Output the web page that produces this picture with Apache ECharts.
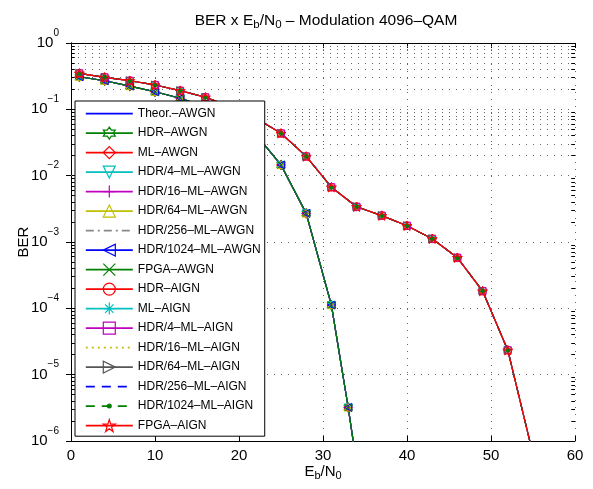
<!DOCTYPE html>
<html>
<head>
<meta charset="utf-8">
<script src="https://cdn.jsdelivr.net/npm/echarts@6/dist/echarts.min.js"></script>
<style>
html, body { margin: 0; padding: 0; background: #fff; }
#main { width: 593px; height: 489px; }
</style>
</head>
<body>
<div id="main"></div>
<script>
// 数据
var ebn0Awgn = [1, 4, 7, 10, 13, 16, 19, 22, 25, 28, 31, 33, 34];
var berAwgn = [0.31, 0.27, 0.224, 0.184, 0.147, 0.109, 0.072, 0.042, 0.0145, 0.0027, 1.12e-4, 3.2e-6, 4.5e-7];
var ebn0Aign = [1, 4, 7, 10, 13, 16, 19, 22, 25, 28, 31, 34, 37, 40, 43, 46, 49, 52, 55];
var berAign = [0.349, 0.304, 0.27, 0.233, 0.191, 0.152, 0.11, 0.0738, 0.0435, 0.0195, 0.0067, 0.0034, 0.0025, 0.00176, 0.00112, 5.8e-4, 1.82e-4, 2.34e-5, 6.3e-7];

var seriesNames = ['Theor.–AWGN', 'HDR–AWGN', 'ML–AWGN', 'HDR/4–ML–AWGN', 'HDR/16–ML–AWGN',
    'HDR/64–ML–AWGN', 'HDR/256–ML–AWGN', 'HDR/1024–ML–AWGN', 'FPGA–AWGN',
    'HDR–AIGN', 'ML–AIGN', 'HDR/4–ML–AIGN', 'HDR/16–ML–AIGN', 'HDR/64–ML–AIGN',
    'HDR/256–ML–AIGN', 'HDR/1024–ML–AIGN', 'FPGA–AIGN'];
var seriesGroup = ['awgn', 'awgn', 'awgn', 'awgn', 'awgn', 'awgn', 'awgn', 'awgn', 'awgn',
    'aign', 'aign', 'aign', 'aign', 'aign', 'aign', 'aign', 'aign'];

var xTicks = [0, 10, 20, 30, 40, 50, 60];
var yDecades = [-6, -5, -4, -3, -2, -1];
var minorFactors = [2, 3, 4, 5, 6, 7, 8, 9];

// marker shapes (matlab style)
var MK = {
    hexagram: 'path://M0,-10L2.887,-5L8.66,-5L5.77,0L8.66,5L2.887,5L0,10L-2.887,5L-8.66,5L-5.77,0L-8.66,-5L-2.887,-5Z',
    pentagram: 'path://M0,-10L2.245,-3.09L9.511,-3.09L3.633,1.18L5.878,8.09L0,3.82L-5.878,8.09L-3.633,1.18L-9.511,-3.09L-2.245,-3.09Z',
    plus: 'path://M-5,0L5,0M0,-5L0,5',
    cross: 'path://M-5,-5L5,5M-5,5L5,-5',
    asterisk: 'path://M-5,0L5,0M0,-5L0,5M-3.5,-3.5L3.5,3.5M-3.5,3.5L3.5,-3.5',
    triUp: 'path://M0,-5L5,4L-5,4Z',
    triDown: 'path://M0,5L5,-4L-5,-4Z',
    triLeft: 'path://M-5,0L4,-5L4,5Z',
    triRight: 'path://M5,0L-4,-5L-4,5Z',
    // small dot inside a 10x10 box (the moveTo corners keep the box size)
    dot: 'path://M-5,-5M5,5M-1.6,0A1.6,1.6,0,1,1,1.6,0A1.6,1.6,0,1,1,-1.6,0Z'
};

var styles = [
    { color: '#0000ff', symbol: 'none', size: 0, type: 'solid' },
    { color: '#008000', symbol: MK.hexagram, size: 10, type: 'solid' },
    { color: '#ff0000', symbol: 'diamond', size: 9, type: 'solid' },
    { color: '#00bfbf', symbol: MK.triDown, size: 8, type: 'solid' },
    { color: '#bf00bf', symbol: MK.plus, size: 8, type: 'solid' },
    { color: '#bfbf00', symbol: MK.triUp, size: 8, type: 'solid' },
    { color: '#888888', symbol: 'none', size: 0, type: [8, 4, 2, 4] },
    { color: '#0000ff', symbol: MK.triLeft, size: 8, type: 'solid' },
    { color: '#008000', symbol: MK.cross, size: 7, type: 'solid' },
    { color: '#ff0000', symbol: 'circle', size: 8, type: 'solid' },
    { color: '#00bfbf', symbol: MK.asterisk, size: 8, type: 'solid' },
    { color: '#bf00bf', symbol: 'rect', size: 7, type: 'solid' },
    { color: '#bfbf00', symbol: 'none', size: 0, type: [2, 4] },
    { color: '#555555', symbol: MK.triRight, size: 8, type: 'solid' },
    { color: '#0000ff', symbol: 'none', size: 0, type: [9, 7] },
    { color: '#008000', symbol: MK.dot, size: 12, type: [9, 7], filled: true },
    { color: '#ff0000', symbol: MK.pentagram, size: 10, type: 'solid' }
];

var FONT = 'Liberation Sans';
var myChart = echarts.init(document.getElementById('main'));

function pairs(xs, ys) {
    return xs.map(function (x, i) { return [x, ys[i]]; });
}

// minor grid + minor ticks of the log axis
var minorLines = [];
yDecades.forEach(function (e) {
    minorFactors.forEach(function (m) {
        var v = m * Math.pow(10, e);
        minorLines.push({ yAxis: v });
        minorLines.push([{ coord: [0, v], lineStyle: { type: 'solid', color: '#000' } }, { coord: [0.45, v] }]);
        minorLines.push([{ coord: [59.55, v], lineStyle: { type: 'solid', color: '#000' } }, { coord: [60, v] }]);
    });
});

var series = seriesNames.map(function (name, i) {
    var st = styles[i];
    var aw = seriesGroup[i] === 'awgn';
    var hidden = st.symbol === 'none';
    var s = {
        name: name,
        type: 'line',
        data: aw ? pairs(ebn0Awgn, berAwgn) : pairs(ebn0Aign, berAign),
        symbol: st.symbol,
        symbolSize: st.size,
        symbolKeepAspect: true,
        showAllSymbol: true,
        clip: true,
        lineStyle: { color: st.color, width: 1.2, type: st.type },
        itemStyle: {
            color: st.filled ? st.color : 'rgba(0,0,0,0)',
            borderColor: hidden ? 'rgba(0,0,0,0)' : st.color,
            borderWidth: 1
        },
        emphasis: { disabled: true },
        animation: false
    };
    if (i === 0) {
        s.markLine = {
            silent: true,
            z: 1,
            animation: false,
            symbol: ['none', 'none'],
            label: { show: false },
            emphasis: { disabled: true },
            lineStyle: { color: '#666', type: [1, 6], width: 1 },
            data: minorLines
        };
    }
    return s;
});

var supRich = {
    b: { fontSize: 15, fontFamily: FONT, color: '#000' },
    e: { fontSize: 10, fontFamily: FONT, color: '#000', padding: [0, 0, 20, 0] }
};
var subRich = {
    m: { fontSize: 15, fontFamily: FONT, color: '#000' },
    s: { fontSize: 11, fontFamily: FONT, color: '#000', padding: [8, 0, 0, 0] }
};
var titleRich = {
    m: { fontSize: 15.5, fontFamily: FONT, color: '#000' },
    s: { fontSize: 11.5, fontFamily: FONT, color: '#000', padding: [9, 0, 0, 0] }
};

var option = {
    backgroundColor: '#fff',
    animation: false,
    title: {
        text: '{m|BER x E}{s|b}{m|/N}{s|0}{m| – Modulation 4096–QAM}',
        left: 321,
        top: 5,
        textAlign: 'center',
        textStyle: { fontFamily: FONT, color: '#000', fontWeight: 'normal', fontSize: 15.5, rich: titleRich }
    },
    legend: {
        data: seriesNames,
        orient: 'vertical',
        left: 75,
        top: 101,
        selectedMode: false,
        backgroundColor: '#fff',
        borderColor: '#000',
        borderWidth: 1,
        borderRadius: 0,
        padding: [6, 4, 4, 10],
        itemWidth: 47,
        itemHeight: 15,
        itemGap: 6.3,
        itemStyle: { borderWidth: 1.2 },
        lineStyle: { width: 1.6 },
        textStyle: { fontFamily: FONT, fontSize: 12, color: '#000' }
    },
    grid: { left: 71, right: 18, top: 43, bottom: 48, containLabel: false, outerBoundsMode: 'none' },
    xAxis: [{
        type: 'value',
        min: 0, max: 60, interval: 10,
        name: '{m|E}{s|b}{m|/N}{s|0}',
        nameLocation: 'middle',
        nameGap: 21,
        nameMoveOverlap: false,
        nameTextStyle: { rich: subRich },
        axisLine: { show: true, lineStyle: { color: '#000', width: 1 } },
        axisTick: { show: true, inside: true, length: 5, lineStyle: { color: '#000' } },
        axisLabel: { fontFamily: FONT, fontSize: 15, color: '#000', margin: 7 },
        splitLine: { show: true, lineStyle: { color: '#666', type: [1, 6], width: 1 } }
    }, {
        type: 'value',
        position: 'top',
        min: 0, max: 60, interval: 10,
        axisLine: { show: true, lineStyle: { color: '#000', width: 1 } },
        axisTick: { show: true, inside: true, length: 5, lineStyle: { color: '#000' } },
        axisLabel: { show: false },
        splitLine: { show: false }
    }],
    yAxis: [{
        type: 'log',
        logBase: 10,
        min: 1e-6, max: 1,
        splitNumber: 6,
        name: 'BER',
        nameLocation: 'middle',
        nameGap: 40,
        nameMoveOverlap: false,
        nameTextStyle: { fontFamily: FONT, fontSize: 15, color: '#000' },
        axisLine: { show: true, lineStyle: { color: '#000', width: 1 } },
        axisTick: { show: true, inside: true, length: 5, lineStyle: { color: '#000' } },
        axisLabel: {
            margin: 12,
            formatter: function (v) {
                var e = Math.round(Math.log10(v));
                return '{b|10}{e|' + (e < 0 ? '−' + (-e) : e) + '}';
            },
            rich: supRich
        },
        splitLine: { show: true, lineStyle: { color: '#666', type: [1, 6], width: 1 } }
    }, {
        type: 'log',
        logBase: 10,
        position: 'right',
        min: 1e-6, max: 1,
        splitNumber: 6,
        axisLine: { show: true, lineStyle: { color: '#000', width: 1 } },
        axisTick: { show: true, inside: true, length: 5, lineStyle: { color: '#000' } },
        axisLabel: { show: false },
        splitLine: { show: false }
    }],
    series: series
};

myChart.setOption(option);
</script>
</body>
</html>
